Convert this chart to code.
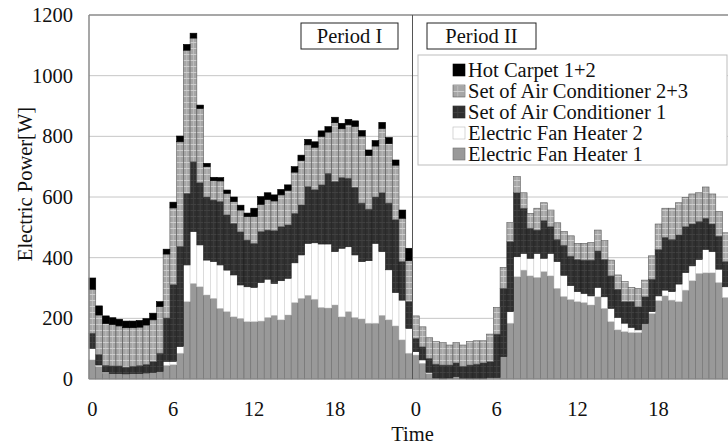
<!DOCTYPE html>
<html>
<head>
<meta charset="utf-8">
<script src="https://cdn.jsdelivr.net/npm/d3@7"></script>
<style>
  body { margin: 0; background: #fff; }
  svg text { font-family: "Liberation Serif", "DejaVu Serif", serif; }
</style>
</head>
<body>
<div id="root"></div>
<script>
// half-hour slots, two periods of 24 h each
const slots = d3.range(96);
const tickSlots = [0, 12, 24, 36, 48, 60, 72, 84];
const tickLabels = ["0", "6", "12", "18", "0", "6", "12", "18"];
const yTicks = [0, 200, 400, 600, 800, 1000, 1200];

const fanHeater1 = [
  63, 41, 20, 18, 18, 17, 18, 18, 20, 22, 25, 45, 47, 85, 255, 315, 304, 277, 266, 233, 222, 205, 200, 189,
  189, 191, 203, 210, 195, 211, 252, 266, 276, 263, 236, 234, 244, 205, 222, 203, 198, 184, 184, 210, 195, 175, 129, 85,
  79, 52, 18, 3, 0, 3, 8, 2, 0, 0, 0, 5, 5, 74, 184, 337, 359, 340, 335, 354, 340, 299, 272, 262,
  255, 252, 244, 271, 233, 189, 162, 156, 153, 153, 183, 216, 258, 274, 260, 255, 293, 324, 348, 350, 350, 318, 269, 250
];
const fanHeater2 = [
  38, 5, 3, 0, 0, 0, 0, 0, 0, 0, 0, 13, 11, 22, 121, 171, 138, 115, 121, 143, 137, 138, 110, 115,
  113, 127, 126, 105, 129, 121, 131, 143, 171, 186, 209, 211, 176, 226, 214, 206, 189, 206, 263, 210, 165, 110, 131, 82,
  11, 11, 4, 0, 0, 0, 0, 0, 0, 0, 0, 0, 0, 0, 38, 66, 55, 58, 79, 44, 74, 88, 70, 46,
  33, 30, 30, 31, 38, 44, 41, 28, 17, 9, 0, 6, 16, 19, 28, 58, 58, 49, 46, 77, 70, 44, 35, 40
];
const airCon1 = [
  50, 35, 22, 25, 25, 22, 24, 26, 28, 35, 60, 143, 253, 330, 236, 230, 205, 208, 203, 209, 182, 170, 175, 154,
  145, 168, 162, 174, 178, 176, 163, 165, 187, 175, 195, 233, 231, 233, 226, 223, 193, 170, 153, 194, 220, 240, 127, 88,
  44, 43, 46, 46, 46, 43, 45, 40, 46, 49, 53, 52, 143, 225, 231, 211, 149, 99, 77, 124, 88, 73, 99, 97,
  106, 110, 118, 120, 123, 107, 93, 71, 85, 76, 88, 107, 153, 174, 172, 162, 151, 138, 125, 103, 91, 109, 83, 90
];
const airCon23 = [
  145, 130, 138, 137, 132, 130, 127, 127, 130, 138, 154, 211, 253, 345, 472, 408, 245, 100, 64, 68, 71, 72, 72, 78,
  89, 90, 101, 98, 105, 114, 136, 146, 138, 140, 160, 136, 194, 161, 176, 201, 221, 177, 168, 212, 196, 180, 143, 135,
  74, 66, 68, 74, 74, 66, 67, 70, 77, 77, 73, 91, 88, 69, 63, 53, 51, 49, 72, 59, 55, 55, 45, 67,
  53, 55, 58, 69, 62, 52, 47, 66, 47, 61, 55, 77, 84, 96, 103, 106, 97, 99, 95, 103, 99, 81, 95, 90
];
const hotCarpet = [
  37, 30, 25, 22, 22, 22, 22, 22, 21, 22, 16, 16, 19, 19, 19, 16, 11, 11, 11, 11, 11, 15, 16, 11,
  27, 25, 22, 20, 18, 18, 18, 18, 18, 18, 18, 18, 18, 18, 18, 18, 18, 18, 18, 20, 20, 17, 27, 41,
  0, 0, 0, 0, 0, 0, 0, 0, 0, 0, 0, 0, 0, 0, 0, 0, 0, 0, 0, 0, 0, 0, 0, 0,
  0, 0, 0, 0, 0, 0, 0, 0, 0, 0, 0, 0, 0, 0, 0, 0, 0, 0, 0, 0, 0, 0, 0, 0
];

const keys = ["fh1", "fh2", "ac1", "ac23", "hc"];
const names = {
  hc: "Hot Carpet 1+2",
  ac23: "Set of Air Conditioner 2+3",
  ac1: "Set of Air Conditioner 1",
  fh2: "Electric Fan Heater 2",
  fh1: "Electric Fan Heater 1",
};
const fills = { fh1: "#999999", fh2: "#ffffff", ac1: "url(#pAc1)", ac23: "url(#pAc23)", hc: "#000000" };
const strokes = { fh1: "#6f6f6f", fh2: "#cfcfcf", ac1: "#1e1e1e", ac23: "#5a5a5a", hc: "#000000" };

const table = slots.map((i) => ({
  slot: i,
  fh1: fanHeater1[i],
  fh2: fanHeater2[i],
  ac1: airCon1[i],
  ac23: airCon23[i],
  hc: hotCarpet[i],
}));

const width = 728;
const height = 448;
const margin = { top: 15, right: -8, bottom: 69, left: 89 };
const fontFamily = "'Liberation Serif', 'DejaVu Serif', serif";
const fontSize = 20.5;

const svg = d3
  .select("#root")
  .append("svg")
  .attr("width", width)
  .attr("height", height)
  .attr("font-family", fontFamily);

const x = d3
  .scaleBand()
  .domain(slots)
  .range([margin.left, width - margin.right])
  .padding(0);

const y = d3
  .scaleLinear()
  .domain([0, 1200])
  .range([height - margin.bottom, margin.top]);

const defs = svg.append("defs");
const bw = x.bandwidth();

// light grey with faint grid for air conditioner 2+3
const p23 = defs
  .append("pattern")
  .attr("id", "pAc23")
  .attr("patternUnits", "userSpaceOnUse")
  .attr("x", margin.left)
  .attr("width", bw)
  .attr("height", 6);
p23.append("rect").attr("width", bw).attr("height", 6).attr("fill", "#a6a6a6");
p23.append("rect").attr("x", bw / 2 - 0.5).attr("width", 1).attr("height", 6).attr("fill", "#bdbdbd");
p23.append("rect").attr("width", bw).attr("height", 1).attr("fill", "#cdcdcd");

// dark grey with faint grid for air conditioner 1
const p1 = defs
  .append("pattern")
  .attr("id", "pAc1")
  .attr("patternUnits", "userSpaceOnUse")
  .attr("x", margin.left)
  .attr("width", bw)
  .attr("height", 6);
p1.append("rect").attr("width", bw).attr("height", 6).attr("fill", "#2f2f2f");
p1.append("rect").attr("x", bw / 2 - 0.5).attr("width", 1).attr("height", 6).attr("fill", "#3d3d3d");
p1.append("rect").attr("width", bw).attr("height", 1).attr("fill", "#404040");

// gridlines
svg
  .append("g")
  .selectAll("line")
  .data(yTicks.filter((d) => d > 0 && d < 1200))
  .join("line")
  .attr("x1", margin.left)
  .attr("x2", width)
  .attr("y1", (d) => y(d))
  .attr("y2", (d) => y(d))
  .attr("stroke", "#c6c6c6")
  .attr("stroke-width", 1);

// stacked bars
const series = d3.stack().keys(keys)(table);

svg
  .append("g")
  .selectAll("g")
  .data(series)
  .join("g")
  .attr("fill", (s) => fills[s.key])
  .attr("stroke", (s) => strokes[s.key])
  .attr("stroke-width", 0.6)
  .selectAll("rect")
  .data((s) => s.filter((d) => d[1] - d[0] > 0))
  .join("rect")
  .attr("x", (d) => x(d.data.slot))
  .attr("y", (d) => y(d[1]))
  .attr("width", bw)
  .attr("height", (d) => y(d[0]) - y(d[1]));

// frame: top border, left axis, bottom line
svg
  .append("line")
  .attr("x1", margin.left)
  .attr("x2", width)
  .attr("y1", y(1200))
  .attr("y2", y(1200))
  .attr("stroke", "#8a8a8a")
  .attr("stroke-width", 1.5);
svg
  .append("line")
  .attr("x1", margin.left)
  .attr("x2", margin.left)
  .attr("y1", y(1200))
  .attr("y2", y(0))
  .attr("stroke", "#8a8a8a")
  .attr("stroke-width", 1.5);
svg
  .append("line")
  .attr("x1", margin.left)
  .attr("x2", width)
  .attr("y1", y(0))
  .attr("y2", y(0))
  .attr("stroke", "#8a8a8a")
  .attr("stroke-width", 1);

// period divider
svg
  .append("line")
  .attr("x1", x(48))
  .attr("x2", x(48))
  .attr("y1", y(1200))
  .attr("y2", y(0))
  .attr("stroke", "#555")
  .attr("stroke-width", 1);

// y tick labels
svg
  .append("g")
  .selectAll("text")
  .data(yTicks)
  .join("text")
  .attr("x", 73)
  .attr("y", (d) => y(d))
  .attr("dy", "0.34em")
  .attr("text-anchor", "end")
  .attr("font-size", fontSize)
  .attr("fill", "#111")
  .text((d) => d);

// x tick labels
svg
  .append("g")
  .selectAll("text")
  .data(tickSlots)
  .join("text")
  .attr("x", (d) => x(d) + bw / 2)
  .attr("y", 416)
  .attr("text-anchor", "middle")
  .attr("font-size", fontSize)
  .attr("fill", "#111")
  .text((d, i) => tickLabels[i]);

// axis titles
svg
  .append("text")
  .attr("x", x(48))
  .attr("y", 441)
  .attr("text-anchor", "middle")
  .attr("font-size", fontSize)
  .attr("fill", "#111")
  .text("Time");

svg
  .append("text")
  .attr("transform", "translate(32,184) rotate(-90)")
  .attr("text-anchor", "middle")
  .attr("font-size", fontSize)
  .attr("fill", "#111")
  .text("Electric Power[W]");

// period boxes
const periods = [
  { label: "Period I", x0: 301, x1: 398 },
  { label: "Period II", x0: 427, x1: 536 },
];
const pg = svg.append("g").selectAll("g").data(periods).join("g");
pg.append("rect")
  .attr("x", (d) => d.x0)
  .attr("y", 23)
  .attr("width", (d) => d.x1 - d.x0)
  .attr("height", 26)
  .attr("fill", "#fff")
  .attr("stroke", "#222")
  .attr("stroke-width", 1);
pg.append("text")
  .attr("x", (d) => (d.x0 + d.x1) / 2)
  .attr("y", 43)
  .attr("text-anchor", "middle")
  .attr("font-size", fontSize)
  .attr("fill", "#111")
  .text((d) => d.label);

// legend
const legendKeys = ["hc", "ac23", "ac1", "fh2", "fh1"];
const legend = svg.append("g");
legend
  .append("rect")
  .attr("x", 418)
  .attr("y", 55)
  .attr("width", 309)
  .attr("height", 110)
  .attr("fill", "#fff")
  .attr("stroke", "#bdbdbd")
  .attr("stroke-width", 1);

const items = legend
  .selectAll("g")
  .data(legendKeys)
  .join("g")
  .attr("transform", (d, i) => `translate(453,${70 + i * 21})`);
items
  .append("rect")
  .attr("x", 0)
  .attr("y", -6)
  .attr("width", 12)
  .attr("height", 12)
  .attr("fill", (d) => fills[d])
  .attr("stroke", (d) => (d === "fh2" ? "#bbb" : strokes[d]))
  .attr("stroke-width", 0.6);
items
  .append("text")
  .attr("x", 15)
  .attr("y", 0)
  .attr("dy", "0.35em")
  .attr("font-size", fontSize)
  .attr("fill", "#111")
  .text((d) => names[d]);
</script>
</body>
</html>
